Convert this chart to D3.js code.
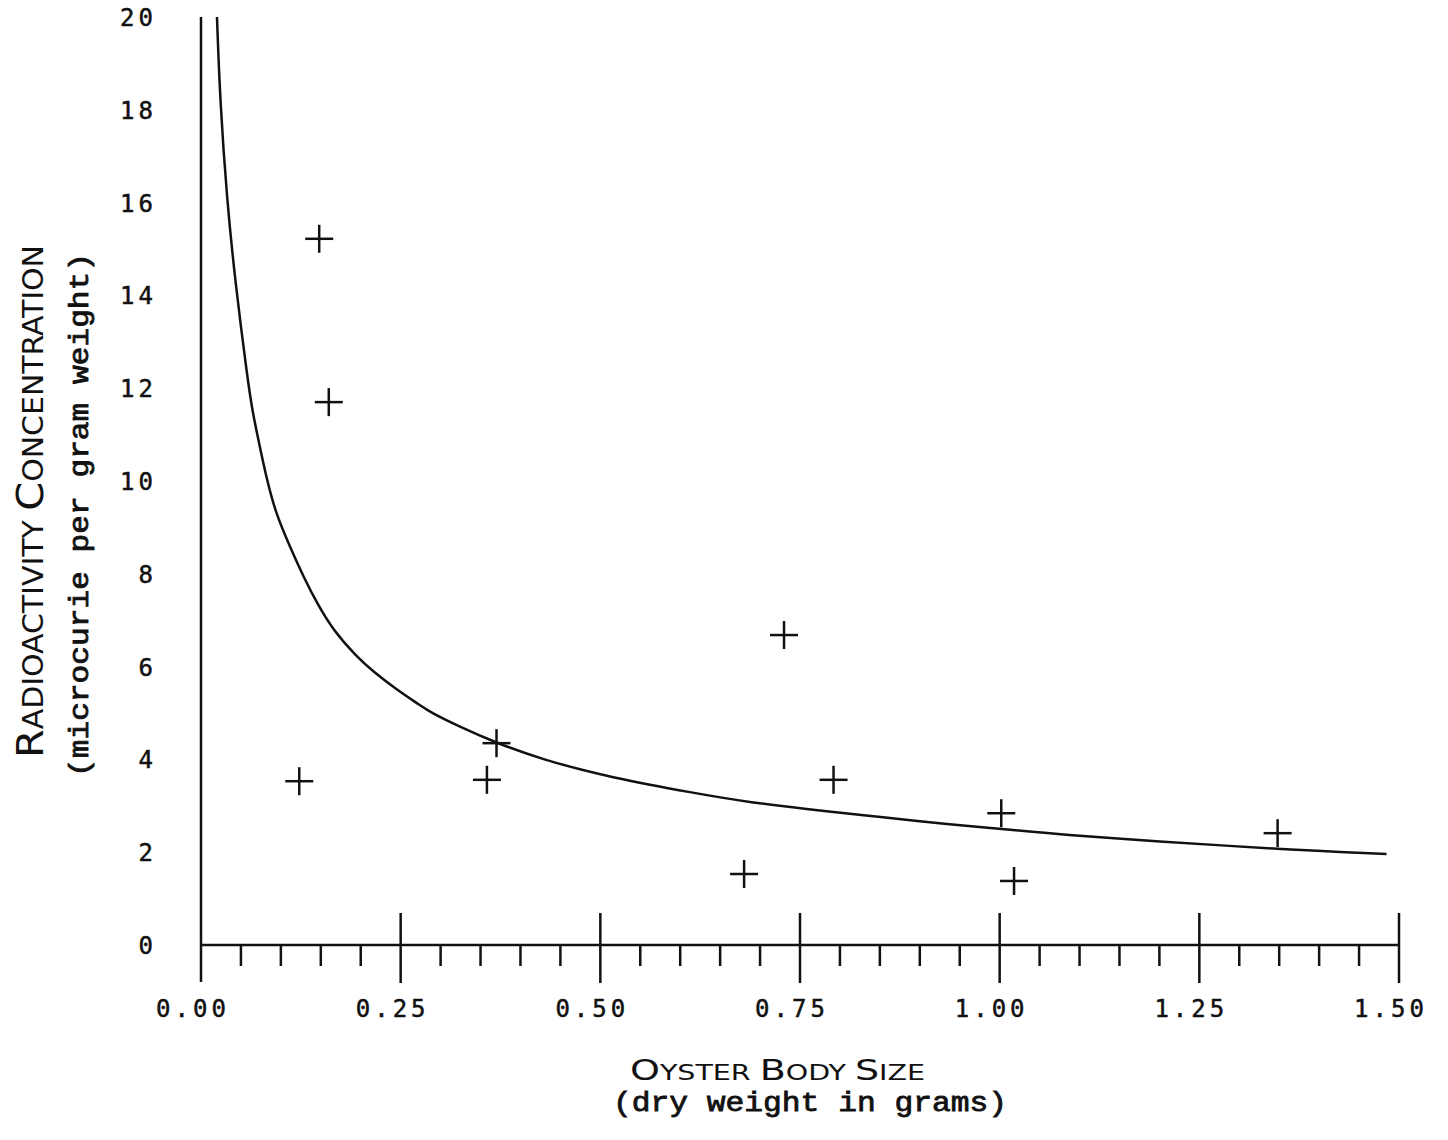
<!DOCTYPE html>
<html lang="en">
<head>
    <meta charset="UTF-8">
    <title>Oyster Body Size vs Radioactivity Concentration</title>
    <script src="https://d3js.org/d3.v7.min.js"></script>
    <style>
        body { margin: 0; background: #fff; }
        svg { display: block; background: #fff; }
        .tick-label { font-family: "DejaVu Sans Mono", monospace; font-size: 24px; letter-spacing: 4px; fill: #111; stroke: #111; stroke-width: 0.5px; }
        .title { font-family: "DejaVu Sans", sans-serif; font-stretch: condensed; fill: #111; }
        .subtitle { font-family: "Liberation Mono", "Courier New", monospace; fill: #111; stroke: #111; stroke-width: 0.8px; }
    </style>
</head>
<body>
<svg id="chart" width="1448" height="1140"></svg>
<script>
    // fitted curve
    const curveX = [0.020, 0.0238, 0.0325, 0.0426, 0.0584, 0.0647, 0.0738, 0.0826, 0.0935, 0.1114,
                    0.1302, 0.1452, 0.1652, 0.1952, 0.2153, 0.2453, 0.2741, 0.2866, 0.3242, 0.3705,
                    0.4280, 0.5156, 0.6158, 0.6834, 0.7872, 0.8498, 0.9374, 1.0038, 1.0838, 1.2090,
                    1.2841, 1.3504, 1.3967, 1.4844];
    const curveY = [20.0, 18.21, 16.06, 14.33, 12.18, 11.47, 10.73, 10.02, 9.31, 8.58,
                    7.87, 7.37, 6.79, 6.21, 5.90, 5.50, 5.17, 5.02, 4.70, 4.35,
                    3.99, 3.60, 3.28, 3.08, 2.87, 2.76, 2.60, 2.50, 2.37, 2.22,
                    2.14, 2.07, 2.03, 1.96];

    // measured oysters
    const sizeX = [0.148, 0.160, 0.123, 0.358, 0.370, 0.730, 0.792, 0.680, 1.002, 1.018, 1.348];
    const concY = [15.22, 11.70, 3.53, 3.56, 4.35, 6.68, 3.56, 1.53, 2.84, 1.38, 2.41];

    const xMajor = [0, 0.25, 0.5, 0.75, 1.0, 1.25, 1.5];
    const xLabels = ["0.00", "0.25", "0.50", "0.75", "1.00", "1.25", "1.50"];
    const yTicks = [0, 2, 4, 6, 8, 10, 12, 14, 16, 18, 20];

    const svg = d3.select("#chart");
    const x = d3.scaleLinear().domain([0, 1.5]).range([201, 1399]);
    const y = d3.scaleLinear().domain([0, 20]).range([945, 17]);
    const ink = "#111";

    // axes
    svg.append("line")
        .attr("x1", x(0)).attr("x2", x(1.5))
        .attr("y1", y(0)).attr("y2", y(0))
        .attr("stroke", ink).attr("stroke-width", 2.5);
    svg.append("line")
        .attr("x1", x(0)).attr("x2", x(0))
        .attr("y1", y(20)).attr("y2", y(0) + 37)
        .attr("stroke", ink).attr("stroke-width", 2.5);

    const minor = d3.range(1, 30).map(i => i * 0.05).filter((d, i) => (i + 1) % 5 !== 0);
    svg.selectAll(".minor").data(minor).enter().append("line")
        .attr("x1", d => x(d)).attr("x2", d => x(d))
        .attr("y1", y(0)).attr("y2", y(0) + 21)
        .attr("stroke", ink).attr("stroke-width", 2.5);
    svg.selectAll(".major").data(xMajor.slice(1)).enter().append("line")
        .attr("x1", d => x(d)).attr("x2", d => x(d))
        .attr("y1", y(0) - 32).attr("y2", y(0) + 38)
        .attr("stroke", ink).attr("stroke-width", 2.5);

    svg.selectAll(".xlab").data(xMajor).enter().append("text")
        .attr("class", "tick-label")
        .attr("x", d => x(d) - 8).attr("y", 1017)
        .attr("text-anchor", "middle")
        .text((d, i) => xLabels[i]);

    svg.selectAll(".ylab").data(yTicks).enter().append("text")
        .attr("class", "tick-label")
        .attr("x", 157).attr("y", d => y(d) + 9)
        .attr("text-anchor", "end")
        .text(d => d);

    // curve
    const pts = curveX.map((v, i) => [v, curveY[i]]);
    svg.append("path")
        .datum(pts)
        .attr("fill", "none").attr("stroke", ink).attr("stroke-width", 2.5)
        .attr("d", d3.line().x(d => x(d[0])).y(d => y(d[1])).curve(d3.curveBasis));

    // crosses
    const data = sizeX.map((v, i) => ({ x: v, y: concY[i] }));
    const cross = svg.selectAll(".pt").data(data).enter().append("g")
        .attr("transform", d => `translate(${x(d.x)},${y(d.y)})`);
    cross.append("line").attr("x1", -14).attr("x2", 14).attr("stroke", ink).attr("stroke-width", 2.5);
    cross.append("line").attr("y1", -14).attr("y2", 14).attr("stroke", ink).attr("stroke-width", 2.5);

    // small caps titles
    function smallCaps(sel, str, big, small) {
        for (const ch of str) {
            const isCap = ch !== ch.toLowerCase();
            sel.append("tspan")
                .attr("font-size", isCap ? big : small)
                .text(ch === " " ? "\u00a0" : ch.toUpperCase());
        }
    }

    const xt = svg.append("text").attr("class", "title")
        .attr("x", 630).attr("y", 1080)
        .attr("textLength", 295).attr("lengthAdjust", "spacingAndGlyphs");
    smallCaps(xt, "Oyster Body Size", 28, 21);

    svg.append("text").attr("class", "subtitle")
        .attr("x", 613).attr("y", 1111)
        .attr("font-size", 27)
        .attr("textLength", 394).attr("lengthAdjust", "spacingAndGlyphs")
        .text("(dry weight in grams)");

    const yt = svg.append("text").attr("class", "title")
        .attr("transform", "translate(43,758) rotate(-90)")
        .attr("textLength", 513).attr("lengthAdjust", "spacingAndGlyphs");
    smallCaps(yt, "Radioactivity Concentration", 38, 27.5);

    svg.append("text").attr("class", "subtitle")
        .attr("transform", "translate(88,777) rotate(-90)")
        .attr("font-size", 27)
        .attr("textLength", 524).attr("lengthAdjust", "spacingAndGlyphs")
        .text("(microcurie per gram weight)");
</script>
</body>
</html>
